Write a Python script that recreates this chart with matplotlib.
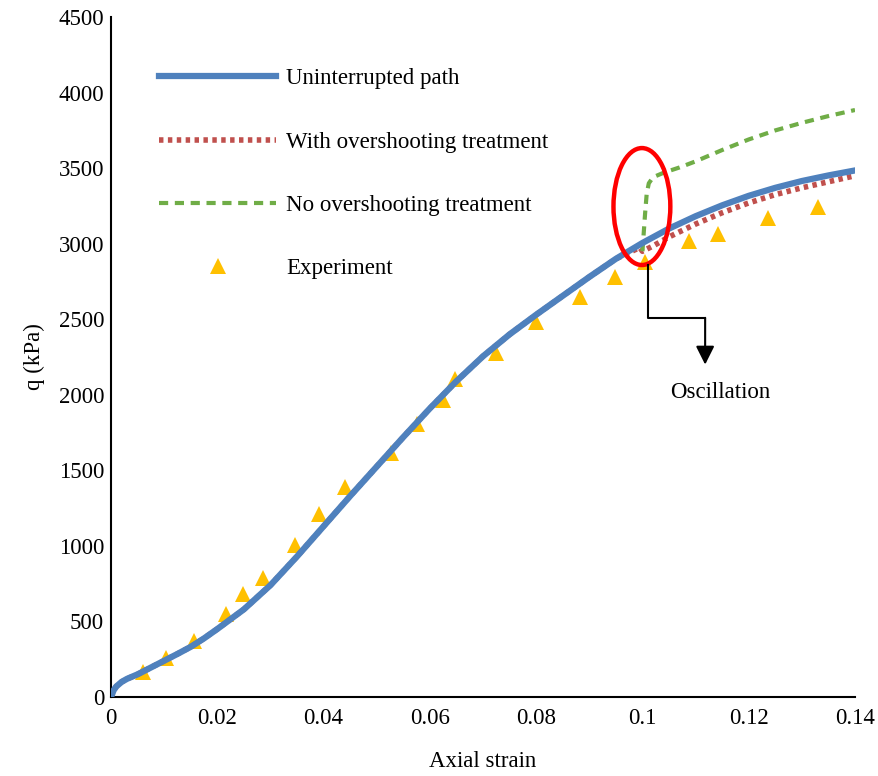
import matplotlib.pyplot as plt
from matplotlib.patches import Ellipse

plt.rcParams['font.family'] = ['Liberation Serif', 'DejaVu Serif']

# ============================================================
# Dados
# ============================================================
strain_path = [0.0, 0.0005, 0.001, 0.002, 0.003, 0.005, 0.0075, 0.01, 0.0125, 0.015,
               0.0175, 0.02, 0.025, 0.03, 0.035, 0.04, 0.045, 0.05, 0.055, 0.06,
               0.065, 0.07, 0.075, 0.08, 0.085, 0.09, 0.095, 0.1,
               0.105, 0.11, 0.115, 0.12, 0.125, 0.13, 0.135, 0.14]
q_path = [0, 45, 70, 100, 120, 150, 195, 240, 285, 332,
          388, 450, 580, 740, 930, 1130, 1330, 1525, 1720, 1910,
          2090, 2255, 2400, 2530, 2655, 2780, 2900, 3005,
          3100, 3182, 3254, 3317, 3370, 3415, 3452, 3485]

strain_with = [0.0995, 0.1, 0.102, 0.105, 0.11, 0.115, 0.12, 0.125, 0.13, 0.135, 0.14]
q_with = [2975, 2950, 2985, 3045, 3130, 3205, 3270, 3325, 3370, 3410, 3450]

strain_no = [0.1, 0.1002, 0.1005, 0.1008, 0.1012, 0.102, 0.104, 0.107, 0.11, 0.115,
             0.12, 0.125, 0.13, 0.135, 0.14]
q_no = [2950, 3050, 3200, 3330, 3400, 3440, 3470, 3505, 3545, 3620,
        3690, 3750, 3800, 3845, 3885]

strain_exp = [0.006, 0.0103, 0.0156, 0.0216, 0.0248, 0.0286, 0.0346, 0.0391, 0.044,
              0.0526, 0.0575, 0.0624, 0.0648, 0.0725, 0.080, 0.0883, 0.0949, 0.1005,
              0.1088, 0.1143, 0.1237, 0.1331]
q_exp = [165, 258, 370, 549, 682, 788, 1006, 1211, 1390,
         1615, 1807, 1966, 2105, 2277, 2482, 2647, 2780, 2879,
         3018, 3064, 3170, 3243]

xticks = [0, 0.02, 0.04, 0.06, 0.08, 0.1, 0.12, 0.14]
xtick_labels = ['0', '0.02', '0.04', '0.06', '0.08', '0.1', '0.12', '0.14']
yticks = list(range(0, 4501, 500))

FS = 16.5

# ============================================================
# Figura
# ============================================================
fig = plt.figure(figsize=(8.79, 7.76), dpi=100)
ax = fig.add_axes([0.1263, 0.1018, 0.8464, 0.8762])

n_common = strain_path.index(0.1)
ax.plot(strain_path[:n_common] + strain_with, q_path[:n_common] + q_with,
        color='#C0504D', lw=4, linestyle=(0, (0.8, 0.8)),
        label='With overshooting treatment', zorder=2)
ax.plot(strain_no, q_no, color='#70AD47', lw=3, linestyle=(0, (2.2, 1.6)),
        label='No overshooting treatment', zorder=2)
ax.plot(strain_path, q_path, color='#4F81BD', lw=4.5,
        label='Uninterrupted path', zorder=3)
ax.plot(strain_exp, q_exp, linestyle='none', marker='^', ms=11, color='#FFC000',
        markeredgewidth=0, label='Experiment', zorder=1)

# elipse vermelha marcando a oscilação
ax.add_patch(Ellipse((0.0999, 3246), 0.0107, 774, fill=False, edgecolor='#FF0000',
                     lw=3.2, zorder=4))

# seta em degrau até o texto
ax.plot([0.1010, 0.1010, 0.1118], [2859, 2508, 2508], color='black', lw=1.5, zorder=4)
ax.annotate('', xy=(0.1118, 2200), xytext=(0.1118, 2509),
            arrowprops=dict(arrowstyle='-|>', color='black', lw=1.5,
                            mutation_scale=28, shrinkA=0, shrinkB=0))
ax.text(0.1146, 2012, 'Oscillation', ha='center', va='center', fontsize=FS)

ax.set_xlim(0, 0.14)
ax.set_ylim(0, 4500)
ax.set_xticks(xticks)
ax.set_xticklabels(xtick_labels)
ax.set_yticks(yticks)
ax.tick_params(length=0, labelsize=FS, pad=8)
ax.tick_params(axis='y', pad=5)
for s in ['top', 'right']:
    ax.spines[s].set_visible(False)
for s in ['left', 'bottom']:
    ax.spines[s].set_linewidth(1.5)

ax.set_xlabel('Axial strain', fontsize=FS, labelpad=16)
ax.set_ylabel('q (kPa)', fontsize=FS, labelpad=10)

handles, labels = ax.get_legend_handles_labels()
order = [2, 0, 1, 3]
ax.legend([handles[i] for i in order], [labels[i] for i in order],
          loc='upper left', bbox_to_anchor=(0.037, 0.955), frameon=False,
          fontsize=FS, handlelength=5.1, handletextpad=0.45, labelspacing=1.84)

plt.savefig('out.png', dpi=100)
plt.close()
